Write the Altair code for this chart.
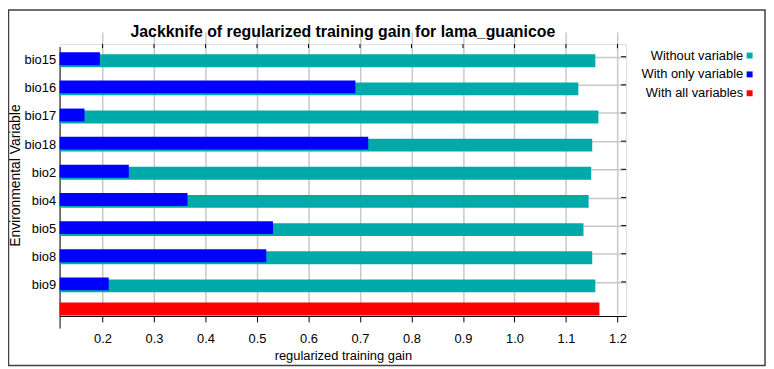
import altair as alt
import pandas as pd

# ---- data ----
variables = ["bio15", "bio16", "bio17", "bio18", "bio2", "bio4", "bio5", "bio8", "bio9"]
without_variable = [1.157, 1.124, 1.163, 1.151, 1.149, 1.144, 1.134, 1.151, 1.157]
with_only_variable = [0.195, 0.691, 0.165, 0.716, 0.251, 0.365, 0.531, 0.518, 0.212]
with_all_variables = 1.165
all_row = "all"
series_names = ["Without variable", "With only variable", "With all variables"]
series_colors = ["#00AAAA", "#0000FF", "#FF0000"]
x_ticks = [0.2, 0.3, 0.4, 0.5, 0.6, 0.7, 0.8, 0.9, 1.0, 1.1, 1.2]
x_min, x_max = 0.1166, 1.2168

rows = []
for v, g in zip(variables, without_variable):
    rows.append({"variable": v, "series": series_names[0], "gain": g, "base": x_min})
for v, g in zip(variables, with_only_variable):
    rows.append({"variable": v, "series": series_names[1], "gain": g, "base": x_min})
rows.append({"variable": all_row, "series": series_names[2], "gain": with_all_variables, "base": x_min})
df = pd.DataFrame(rows)
ticks_df = pd.DataFrame({"tick": x_ticks})
cats_df = pd.DataFrame({"variable": variables})

W, H = 571, 274
FONT = "Liberation Sans"
GRID = "#c8c8c8"

xscale = alt.Scale(domain=[x_min, x_max], nice=False, zero=False)
yscale = alt.Scale(domain=variables + [all_row], range=[2.5, 286.2],
                   paddingInner=0.542, paddingOuter=0.271)

color = alt.Color(
    "series:N",
    scale=alt.Scale(domain=series_names, range=series_colors),
    legend=alt.Legend(
        orient="none", legendX=689, legendY=5, title=None,
        symbolType="square", symbolSize=36, symbolStrokeWidth=0,
        labelAlign="right", labelOffset={"expr": "-13"}, labelFontSize=13,
        labelFont=FONT, labelColor="black", rowPadding=5, padding=0,
    ),
)

xaxis = alt.Axis(
    title="regularized training gain", values=x_ticks, format=".1f",
    labelFontSize=13, labelFont=FONT, labelColor="black",
    titleFontSize=13, titleFont=FONT, titleFontWeight="normal", titleColor="black",
    tickColor="black", tickSize=6, labelPadding=11, titlePadding=4,
    domainColor="black", grid=True, gridColor=GRID, gridWidth=1.5,
)
yaxis = alt.Axis(
    title="Environmental Variable", values=variables,
    labelFontSize=13, labelFont=FONT, labelColor="black", labelFontWeight="normal",
    titleFontSize=14, titleFont=FONT, titleFontWeight="normal", titleColor="black",
    titleY=132, titlePadding=2,
    ticks=False, labelPadding=4, tickOffset=-4, labelOffset=3,
    domainColor="black", grid=True, gridColor=GRID, gridWidth=1.5,
)

base = alt.Chart(df)

teal = base.transform_filter(alt.datum.series == series_names[0]).mark_bar().encode(
    x=alt.X("gain:Q", scale=xscale, axis=xaxis),
    x2="base:Q",
    y=alt.Y("variable:N", scale=yscale, axis=yaxis, sort=None),
    color=color,
)
blue = base.transform_filter(alt.datum.series == series_names[1]).mark_bar(yOffset=-2).encode(
    x=alt.X("gain:Q", scale=xscale),
    x2="base:Q",
    y=alt.Y("variable:N", scale=yscale),
    color=color,
)
red = base.transform_filter(alt.datum.series == series_names[2]).mark_bar(yOffset=-5).encode(
    x=alt.X("gain:Q", scale=xscale),
    x2="base:Q",
    y=alt.Y("variable:N", scale=yscale),
    color=color,
)

top_ticks = alt.Chart(ticks_df).mark_rule(color="black").encode(
    x=alt.X("tick:Q", scale=xscale),
    y=alt.value(0),
    y2=alt.value(4),
)
right_ticks = alt.Chart(cats_df).mark_rule(color="black", yOffset=-4).encode(
    y=alt.Y("variable:N", scale=yscale),
    x=alt.value(W - 5),
    x2=alt.value(W),
)
border = alt.Chart(pd.DataFrame({"frame": [0]})).mark_rect(
    fill=None, stroke="#404040", strokeWidth=1.5, clip=False
).encode(
    x=alt.value(-51.5), x2=alt.value(711),
    y=alt.value(-34.5), y2=alt.value(324),
)

chart = alt.layer(teal, blue, red, top_ticks, right_ticks, border).properties(
    width=W, height=H,
    title=alt.TitleParams(
        "Jackknife of regularized training gain for lama_guanicoe",
        font=FONT, fontSize=16, fontWeight="bold", color="black",
        anchor="middle", offset=7, frame="group", dy=38,
    ),
    autosize=alt.AutoSizeParams(type="none"),
    padding={"left": 52, "top": 35, "right": 141, "bottom": 51},
).configure_view(stroke="black", strokeWidth=1).configure(background="white")

chart.save("out.html", embed_options={"renderer": "svg", "actions": False})
